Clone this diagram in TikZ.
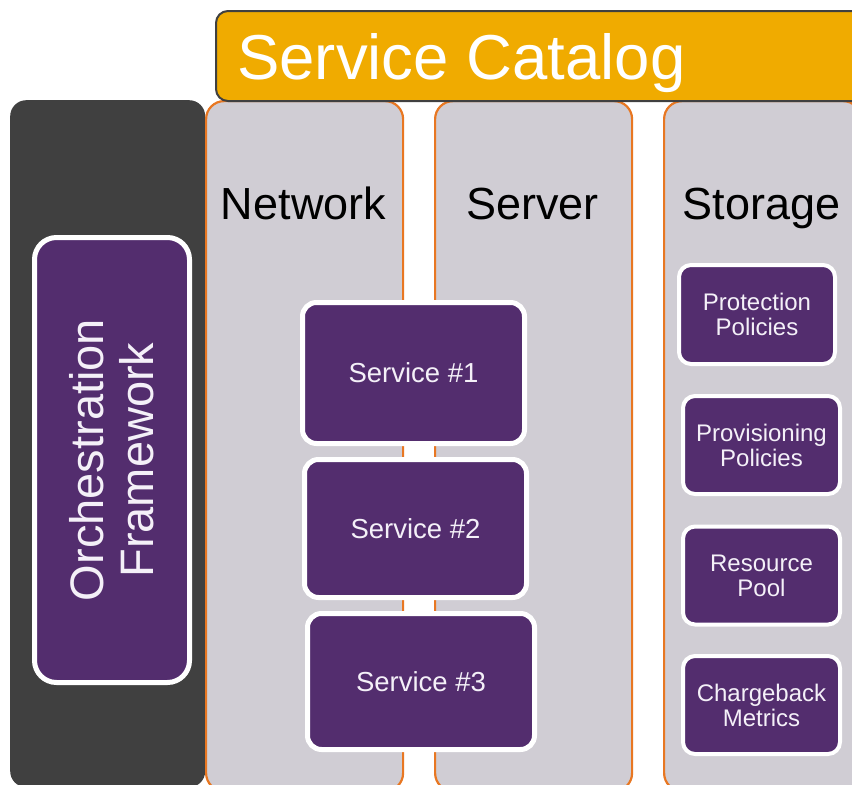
\documentclass[tikz,border=0pt]{standalone}
\usepackage{fontspec}
\setmainfont{Liberation Sans}
\definecolor{darkbg}{HTML}{404040}
\definecolor{purp}{HTML}{532D6E}
\definecolor{colgray}{HTML}{D0CDD4}
\definecolor{orangeline}{HTML}{E87722}
\definecolor{catalogfill}{HTML}{F0AB00}
\definecolor{lighttext}{HTML}{F4F0F8}
\tikzset{
  darkpanel/.style={rectangle, fill=darkbg, rounded corners=16pt, anchor=north west, inner sep=0pt},
  column/.style={rectangle, fill=colgray, draw=orangeline, line width=2.2pt, rounded corners=18pt, anchor=north west, minimum width=197pt, minimum height=690pt, inner sep=0pt},
  catalog/.style={rectangle, fill=catalogfill, draw=darkbg, line width=2pt, rounded corners=12pt, anchor=north west, inner sep=0pt},
  coltitle/.style={text=black, font=\fontsize{45}{50}\selectfont, inner sep=0pt, anchor=base},
  purpbox/.style={rectangle, fill=purp, draw=white, text=lighttext, align=center, inner sep=0pt},
  servicebox/.style={purpbox, line width=5pt, rounded corners=14pt, font=\fontsize{27.5}{32}\selectfont},
  storebox/.style={purpbox, line width=4pt, rounded corners=12pt, font=\fontsize{24}{25}\selectfont, minimum width=157pt, minimum height=98pt},
}
\begin{document}
\begin{tikzpicture}[x=1pt,y=-1pt]
\useasboundingbox (0,0) rectangle (852,785);
\clip (0,0) rectangle (852,785);
% left dark panel
\node[darkpanel, minimum width=195pt, minimum height=687pt] (panel) at (10,100) {};
% columns
\node[column] (netcol) at (205,100) {};
\node[column] (srvcol) at (434,100) {};
\node[column] (stocol) at (663,100) {};
% catalog banner
\node[catalog, minimum width=700pt, minimum height=90pt] (catalog) at (215,10) {};
\node[text=white, font=\fontsize{63.5}{68}\selectfont, anchor=base west, inner sep=0pt] (cattext) at (237,79) {Service Catalog};
% column titles
\node[coltitle] (nettitle) at (303.5,219) {Network};
\node[coltitle] (srvtitle) at (532.5,219) {Server};
\node[coltitle] (stotitle) at (761.5,219) {Storage};
% orchestration
\node[purpbox, line width=5pt, rounded corners=22pt, rotate=90, minimum width=445pt, minimum height=155pt, font=\fontsize{47}{50}\selectfont] (orch) at (112,460) {Orchestration\\Framework};
% services
\node[servicebox, minimum width=222pt, minimum height=141pt] (s1) at (413.5,373) {Service \#1};
\node[servicebox, minimum width=222pt, minimum height=138pt] (s2) at (415.5,528.5) {Service \#2};
\node[servicebox, minimum width=227pt, minimum height=136pt] (s3) at (421,681.5) {Service \#3};
% storage boxes
\node[storebox, minimum width=156pt, minimum height=99pt] (prot) at (757,314.5) {Protection\\Policies};
\node[storebox] (prov) at (761.5,445) {Provisioning\\Policies};
\node[storebox] (pool) at (761.5,575.5) {Resource\\Pool};
\node[storebox] (charge) at (761.5,705) {Chargeback\\Metrics};
\end{tikzpicture}
\end{document}
